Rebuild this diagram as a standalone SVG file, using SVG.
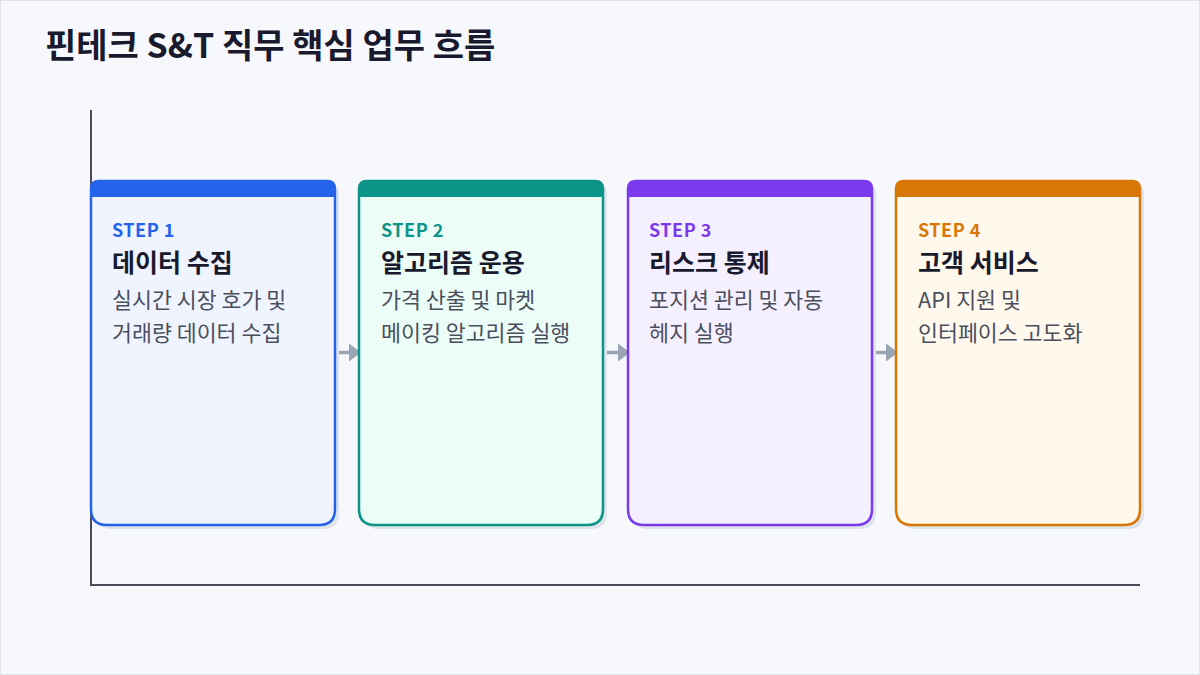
<svg xmlns="http://www.w3.org/2000/svg" width="1200" height="675" viewBox="0 0 1200 675">
<defs>
<style>
text{font-family:"Noto Sans CJK KR","Noto Sans",sans-serif}
.title{font-size:34px;font-weight:700;fill:#1a1a2e}
.step{font-size:18px;font-weight:700;letter-spacing:0.5px}
.head{font-size:25px;font-weight:700;fill:#1a1a2e}
.desc{font-size:21.7px;font-weight:400;fill:#4a4f5e}
.shadow{fill:#dfe3ea}
.axis{stroke:#4a4a5a;stroke-width:2;fill:none}
.conn{stroke:#9aa5b4;stroke-width:3.5}
</style>
<marker id="ah" viewBox="0 0 12 18" refX="0" refY="9" markerWidth="12" markerHeight="18" orient="auto" markerUnits="userSpaceOnUse">
<path d="M0,0 L12,9 L0,18 Z" fill="#9aa5b4"/>
</marker>
</defs>
<rect x="0.5" y="0.5" width="1199" height="674" fill="#f7f8fc" stroke="#e0e3ea" stroke-width="1"/>
<text class="title" x="45" y="58">핀테크 S&amp;T 직무 핵심 업무 흐름</text>
<g id="axes">
<path class="axis" d="M91,110 L91,585 L1140,585"/>
</g>
<g id="connectors">
<line class="conn" x1="330" y1="352.5" x2="349" y2="352.5" marker-end="url(#ah)"/>
<line class="conn" x1="599" y1="352.5" x2="618" y2="352.5" marker-end="url(#ah)"/>
<line class="conn" x1="867" y1="352.5" x2="886" y2="352.5" marker-end="url(#ah)"/>
</g>
<g id="step1">
<path class="shadow" d="M103,185 H331 Q339,185 339,193 V513 Q339,529 323,529 H111 Q95,529 95,513 V193 Q95,185 103,185 Z"/>
<path d="M99,181 H327 Q335,181 335,189 V509 Q335,525 319,525 H107 Q91,525 91,509 V189 Q91,181 99,181 Z" fill="#eff4ff" stroke="#2563eb" stroke-width="2.5"/>
<path d="M99,181 H327 Q335,181 335,189 V197 H91 V189 Q91,181 99,181 Z" fill="#2563eb"/>
<text class="step" x="112" y="237" fill="#2563eb">STEP 1</text>
<text class="head" x="112" y="272">데이터 수집</text>
<text class="desc" x="112" y="308">실시간 시장 호가 및</text>
<text class="desc" x="112" y="341">거래량 데이터 수집</text>
</g>
<g id="step2">
<path class="shadow" d="M371,185 H599 Q607,185 607,193 V513 Q607,529 591,529 H379 Q363,529 363,513 V193 Q363,185 371,185 Z"/>
<path d="M367,181 H595 Q603,181 603,189 V509 Q603,525 587,525 H375 Q359,525 359,509 V189 Q359,181 367,181 Z" fill="#ecfdf8" stroke="#0d9488" stroke-width="2.5"/>
<path d="M367,181 H595 Q603,181 603,189 V197 H359 V189 Q359,181 367,181 Z" fill="#0d9488"/>
<text class="step" x="381" y="237" fill="#0d9488">STEP 2</text>
<text class="head" x="381" y="272">알고리즘 운용</text>
<text class="desc" x="381" y="308">가격 산출 및 마켓</text>
<text class="desc" x="381" y="341">메이킹 알고리즘 실행</text>
</g>
<g id="step3">
<path class="shadow" d="M640,185 H868 Q876,185 876,193 V513 Q876,529 860,529 H648 Q632,529 632,513 V193 Q632,185 640,185 Z"/>
<path d="M636,181 H864 Q872,181 872,189 V509 Q872,525 856,525 H644 Q628,525 628,509 V189 Q628,181 636,181 Z" fill="#f5f0ff" stroke="#7c3aed" stroke-width="2.5"/>
<path d="M636,181 H864 Q872,181 872,189 V197 H628 V189 Q628,181 636,181 Z" fill="#7c3aed"/>
<text class="step" x="649" y="237" fill="#7c3aed">STEP 3</text>
<text class="head" x="649" y="272">리스크 통제</text>
<text class="desc" x="649" y="308">포지션 관리 및 자동</text>
<text class="desc" x="649" y="341">헤지 실행</text>
</g>
<g id="step4">
<path class="shadow" d="M908,185 H1136 Q1144,185 1144,193 V513 Q1144,529 1128,529 H916 Q900,529 900,513 V193 Q900,185 908,185 Z"/>
<path d="M904,181 H1132 Q1140,181 1140,189 V509 Q1140,525 1124,525 H912 Q896,525 896,509 V189 Q896,181 904,181 Z" fill="#fff8ec" stroke="#d97706" stroke-width="2.5"/>
<path d="M904,181 H1132 Q1140,181 1140,189 V197 H896 V189 Q896,181 904,181 Z" fill="#d97706"/>
<text class="step" x="918" y="237" fill="#d97706">STEP 4</text>
<text class="head" x="918" y="272">고객 서비스</text>
<text class="desc" x="918" y="308">API 지원 및</text>
<text class="desc" x="918" y="341">인터페이스 고도화</text>
</g>
</svg>
